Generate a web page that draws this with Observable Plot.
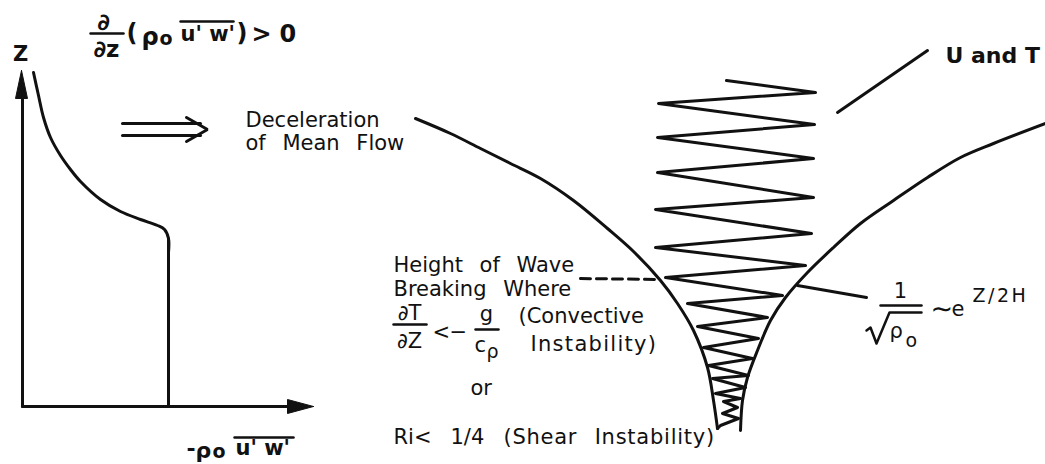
<!DOCTYPE html>
<html>
<head>
<meta charset="utf-8">
<script src="https://cdn.jsdelivr.net/npm/d3@7"></script>
<script src="https://cdn.jsdelivr.net/npm/@observablehq/plot@0.6"></script>
<style>
  html, body { margin: 0; padding: 0; background: #fff; }
  svg text { word-spacing: 10px; }
  svg g[font-weight="bold"] text { word-spacing: 0; }
</style>
</head>
<body>
<div id="chart"></div>
<script>
// ---- diagram data (schematic coordinates: x to the right, y downward) ----

// Left panel: momentum-flux profile  -rho0 <u'w'>  versus Z
const fluxProfile = [
  [33, 72], [38, 95], [43, 117], [50, 137], [60, 155], [70, 169], [80, 181],
  [100, 199], [120, 211], [140, 219], [157, 225], [164, 229], [168, 238], [168, 252]
];
const fluxProfileLower = [[168, 238], [168, 406]];

// Left panel axes
const zAxis = [[22, 406], [22, 90]];
const fluxAxis = [[22, 406], [296, 406]];
const axisHeads = [
  { g: "z", pts: [[21, 70], [27, 98], [15, 98], [21, 70]] },
  { g: "flux", pts: [[313, 406], [287, 399], [287, 413], [313, 406]] }
];

// "implies" double arrow
const impliesArrow = [
  { g: "upper", pts: [[122, 123], [200, 123]] },
  { g: "lower", pts: [[122, 135], [200, 135]] },
  { g: "head", pts: [[186, 117], [207, 129], [186, 141]] }
];

// Right panel: amplitude envelope  1/sqrt(rho0) ~ e^(Z/2H)
const leftEnvelope = [
  [415, 118], [450, 133], [480, 148], [510, 163], [540, 178], [573, 200],
  [607, 228], [633, 251], [660, 280], [677, 303], [693, 330], [707, 367],
  [713, 400], [717, 428]
];
const rightEnvelope = [
  [1045, 123], [993, 143], [960, 157], [927, 177], [893, 200], [860, 223],
  [833, 247], [807, 272], [785, 297], [770, 320], [757, 350], [747, 377],
  [742, 400], [740, 430]
];

// Wave (U and T perturbations): growing oscillation, saturated above breaking level
const waveTrace = [
  [726, 80], [815, 92], [658, 103], [814, 124], [657, 137], [813, 158],
  [657, 172], [813, 197], [655, 209], [811, 233], [655, 247], [805, 265],
  [665, 277], [782, 295], [687, 303], [767, 317], [697, 326], [758, 338],
  [703, 347], [752, 358], [708, 365], [748, 375], [712, 378], [745, 387],
  [715, 393], [740, 398], [723, 401], [737, 407], [722, 413], [738, 418],
  [720, 425], [717, 428]
];

// Breaking-height dashed line and leader lines
const breakingLevel = [[580, 278], [658, 279]];
const leaders = [
  { g: "UT", pts: [[837, 112], [927, 50]] },
  { g: "env", pts: [[797, 285], [866, 297]] }
];

// Fraction bars, overlines and the radical sign
const mathStrokes = [
  { g: "ddz", pts: [[90, 33], [123, 33]] },
  { g: "ovTop", pts: [[180, 21], [233, 21]] },
  { g: "ovBottom", pts: [[234, 437], [293, 437]] },
  { g: "dTdZ", pts: [[393, 324], [426, 324]] },
  { g: "gcp", pts: [[475, 329], [498, 329]] },
  { g: "oneOver", pts: [[880, 305], [921, 305]] },
  { g: "radical", pts: [[866, 330], [870, 327], [876, 343], [889, 312], [921, 312]] }
];

// Text labels
const plainLabels = [
  { x: 245, y: 120, text: "Deceleration" },
  { x: 245, y: 143, text: "of Mean Flow" },
  { x: 393, y: 265, text: "Height of Wave" },
  { x: 393, y: 289, text: "Breaking Where" },
  { x: 518, y: 316, text: "(Convective" },
  { x: 530, y: 344, text: "Instability)" },
  { x: 470, y: 388, text: "or" },
  { x: 393, y: 437, text: "Ri<" },
  { x: 450, y: 437, text: "1/4" },
  { x: 503, y: 437, text: "(Shear Instability)" }
];
const centeredMath = [
  { x: 409, y: 313, text: "∂T" },
  { x: 409, y: 341, text: "∂Z" },
  { x: 486, y: 314, text: "g" },
  { x: 900, y: 291, text: "1" }
];
const inlineMath = [
  { x: 432, y: 332, text: "<" },
  { x: 449, y: 332, text: "−" },
  { x: 474, y: 345, text: "c" },
  { x: 889, y: 331, text: "ρ" },
  { x: 951, y: 309, text: "e" }
];
const tildeSign = [{ x: 930, y: 309, text: "∼" }];
const smallMath = [
  { x: 486, y: 351, text: "ρ" },
  { x: 905, y: 340, text: "o" },
  { x: 972, y: 295, text: "Z/2H" }
];
const boldLabels = [
  { x: 20, y: 54, text: "Z", anchor: "middle" },
  { x: 945, y: 55, text: "U and T", anchor: "start" }
];
const topFormula = [
  { x: 103, y: 22, text: "∂", anchor: "middle" },
  { x: 106, y: 49, text: "∂z", anchor: "middle" },
  { x: 126, y: 33, text: "(", anchor: "start" },
  { x: 141, y: 37, text: "ρ", anchor: "start" },
  { x: 236, y: 33, text: ")", anchor: "start" },
  { x: 251, y: 34, text: ">", anchor: "start" },
  { x: 279, y: 34, text: "0", anchor: "start" }
];
const primeProducts = [
  { x: 180, y: 34, text: "u' w'" },
  { x: 235, y: 448, text: "u' w'" }
];
const bottomLabel = [
  { x: 186, y: 448, text: "-" },
  { x: 195, y: 450, text: "ρ" }
];
const subscriptO = [
  { x: 159, y: 38, text: "o" },
  { x: 212, y: 451, text: "o" }
];
// extra tracking for labels whose lettering is wider than the installed font
const tracking = [
  { text: "Instability)", spacing: "1.3px" },
  { text: "(Shear Instability)", spacing: "0.75px" },
  { text: "Z/2H", spacing: "2.5px" }
];

// ---- helpers to build tidy tables for the library ----
const pts = (arr) => arr.map(([x, y]) => ({ x, y }));
const groups = (arr) => arr.flatMap(({ g, pts: p }) => p.map(([x, y]) => ({ g, x, y })));

const ink = "#111";
const font = "DejaVu Sans";
const T = (data, o) => Plot.text(data, { x: "x", y: "y", text: "text", fill: ink, fontFamily: font, ...o });

const chart = Plot.plot({
  width: 1045,
  height: 464,
  margin: 0,
  x: { domain: [0, 1045], range: [0, 1045], axis: null },
  y: { domain: [0, 464], range: [0, 464], axis: null },
  style: { background: "#fff", fontFamily: font },
  marks: [
    // left panel
    Plot.line(pts(fluxProfile), { x: "x", y: "y", curve: "catmull-rom", stroke: ink, strokeWidth: 3 }),
    Plot.line(pts(fluxProfileLower), { x: "x", y: "y", stroke: ink, strokeWidth: 3 }),
    Plot.line(pts(zAxis), { x: "x", y: "y", stroke: ink, strokeWidth: 3 }),
    Plot.line(pts(fluxAxis), { x: "x", y: "y", stroke: ink, strokeWidth: 3 }),
    Plot.line(groups(axisHeads), { x: "x", y: "y", z: "g", fill: ink, stroke: ink, strokeWidth: 1 }),
    Plot.line(groups(impliesArrow), { x: "x", y: "y", z: "g", stroke: ink, strokeWidth: 3, strokeLinejoin: "miter" }),

    // right panel
    Plot.line(pts(leftEnvelope), { x: "x", y: "y", curve: "catmull-rom", stroke: ink, strokeWidth: 3 }),
    Plot.line(pts(rightEnvelope), { x: "x", y: "y", curve: "catmull-rom", stroke: ink, strokeWidth: 3 }),
    Plot.line(pts(waveTrace), { x: "x", y: "y", stroke: ink, strokeWidth: 3, strokeLinejoin: "round", strokeLinecap: "round" }),
    Plot.line(pts(breakingLevel), { x: "x", y: "y", stroke: ink, strokeWidth: 3, strokeDasharray: "10,6" }),
    Plot.line(groups(leaders), { x: "x", y: "y", z: "g", stroke: ink, strokeWidth: 3 }),
    Plot.line(groups(mathStrokes), { x: "x", y: "y", z: "g", stroke: ink, strokeWidth: 2.5 }),

    // text
    T(plainLabels, { textAnchor: "start", fontSize: 21 }),
    T(centeredMath, { textAnchor: "middle", fontSize: 21 }),
    T(inlineMath, { textAnchor: "start", fontSize: 21 }),
    T(tildeSign, { textAnchor: "start", fontSize: 27 }),
    T(smallMath, { textAnchor: "start", fontSize: 19 }),
    T(boldLabels.filter(d => d.anchor === "middle"), { textAnchor: "middle", fontSize: 21, fontWeight: "bold" }),
    T(boldLabels.filter(d => d.anchor === "start"), { textAnchor: "start", fontSize: 22, fontWeight: "bold" }),
    T(topFormula.filter(d => d.anchor === "middle"), { textAnchor: "middle", fontSize: 23, fontWeight: "bold" }),
    T(topFormula.filter(d => d.anchor === "start"), { textAnchor: "start", fontSize: 24, fontWeight: "bold" }),
    T(primeProducts, { textAnchor: "start", fontSize: 21, fontWeight: "bold" }),
    T(bottomLabel, { textAnchor: "start", fontSize: 22, fontWeight: "bold" }),
    T(subscriptO, { textAnchor: "start", fontSize: 19, fontWeight: "bold" })
  ]
});

const svg = d3.select(chart);
tracking.forEach(({ text, spacing }) => {
  svg.selectAll("text").filter(function () { return this.textContent === text; })
    .style("letter-spacing", spacing);
});

document.getElementById("chart").appendChild(chart);
</script>
</body>
</html>
